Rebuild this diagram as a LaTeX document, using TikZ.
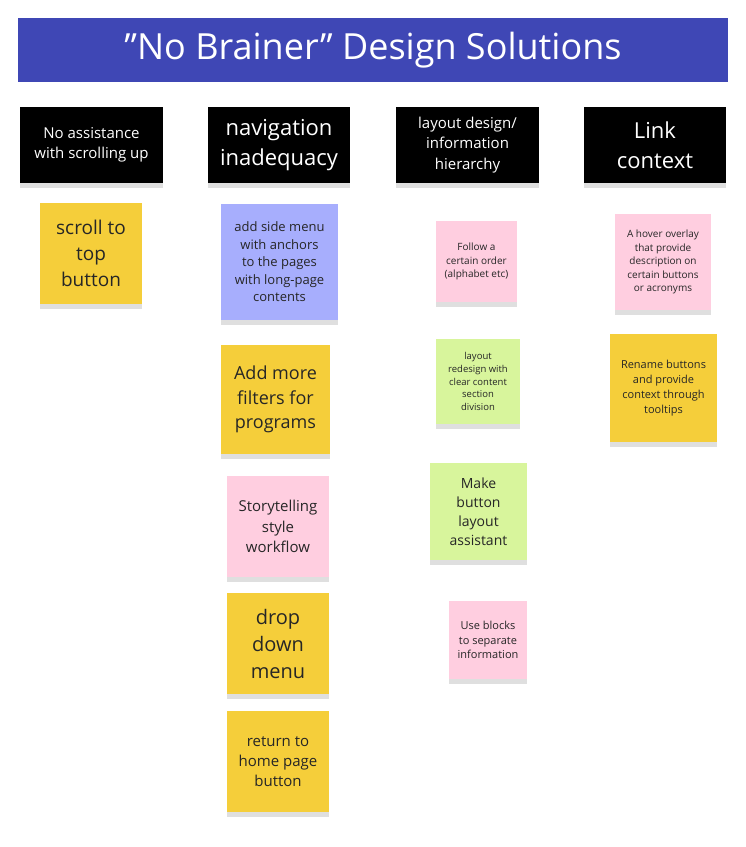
\documentclass[tikz,border=0pt]{standalone}
\usepackage{fontspec}
\setmainfont{Open Sans}
\usetikzlibrary{shadows}
\definecolor{titleblue}{HTML}{3F47B5}
\definecolor{sy}{HTML}{F5CE3A}
\definecolor{sb}{HTML}{A7AEFD}
\definecolor{sp}{HTML}{FFCEE0}
\definecolor{sg}{HTML}{D8F59C}
\tikzset{
 hdr/.style={fill=black,text=white,align=center,inner sep=0pt,drop shadow={shadow xshift=0pt,shadow yshift=-5pt,opacity=0.25}},
 stk/.style={align=center,inner sep=0pt,text=black!85,drop shadow={shadow xshift=0pt,shadow yshift=-5pt,opacity=0.25}}
}
\newcommand{\mybox}[9]{% name x1 y1 x2 y2 style color fontsize text
 \pgfmathsetmacro\bsk{#8*1.35}%
 \node[#6,fill=#7,minimum width={(#4-#2)*1pt},minimum height={(#5-#3)*1pt},font=\fontsize{#8}{\bsk}\selectfont] (#1) at ({(#2+#4)/2},{-(#3+#5)/2}) {#9};}
\begin{document}
\begin{tikzpicture}[x=1pt,y=1pt]
\useasboundingbox (0,0) rectangle (746,-847);
\node[fill=titleblue,text=white,minimum width=710pt,minimum height=64pt,inner sep=0pt,font=\fontsize{36}{40}\selectfont] (title) at (373,-50) {"No Brainer" Design Solutions};
\mybox{h1}{20}{107}{163}{183}{hdr}{black}{15}{No assistance\\with scrolling up}
\mybox{h2}{208}{107}{350}{183}{hdr}{black}{22}{navigation\\inadequacy}
\mybox{h3}{396}{107}{539}{183}{hdr}{black}{15}{layout design/\\information\\hierarchy}
\mybox{h4}{584}{107}{726}{183}{hdr}{black}{22}{Link\\context}
\mybox{a1}{40}{203}{142}{304}{stk}{sy}{19}{scroll to\\top\\button}
\mybox{b1}{221}{204}{338}{320}{stk}{sb}{13}{add side menu\\with anchors\\to the pages\\with long-page\\contents}
\mybox{b2}{221}{345}{330}{454}{stk}{sy}{18}{Add more\\filters for\\programs}
\mybox{b3}{227}{476}{329}{577}{stk}{sp}{15}{Storytelling\\style\\workflow}
\mybox{b4}{227}{593}{329}{694}{stk}{sy}{20}{drop\\down\\menu}
\mybox{b5}{227}{711}{329}{812}{stk}{sy}{15}{return to\\home page\\button}
\mybox{c1}{436}{221}{517}{302}{stk}{sp}{10}{Follow a\\certain order\\(alphabet etc)}
\mybox{c2}{436}{339}{520}{424}{stk}{sg}{9.5}{layout\\redesign with\\clear content\\section\\division}
\mybox{c3}{430}{463}{527}{560}{stk}{sg}{14}{Make\\button\\layout\\assistant}
\mybox{c4}{449}{601}{527}{679}{stk}{sp}{11}{Use blocks\\to separate\\information}
\mybox{d1}{615}{214}{711}{310}{stk}{sp}{10}{A hover overlay\\that provide\\description on\\certain buttons\\or acronyms}
\mybox{d2}{610}{334}{717}{442}{stk}{sy}{11}{Rename buttons\\and provide\\context through\\tooltips}
\end{tikzpicture}
\end{document}
